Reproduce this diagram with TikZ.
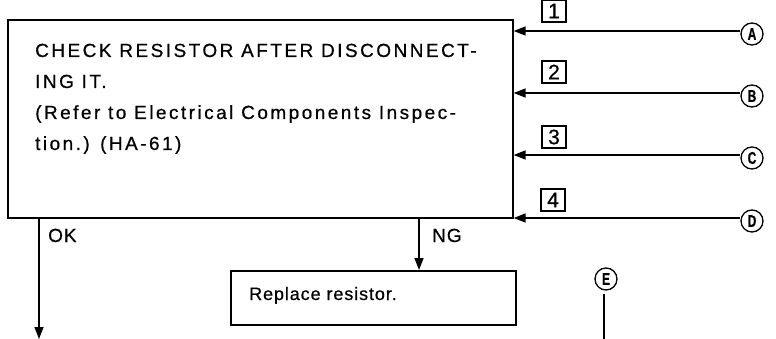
\documentclass[tikz,border=0pt]{standalone}
\usepackage{fontspec}
\setmainfont{Liberation Sans}
\newfontfamily\mainfnt[LetterSpace=13,FakeBold=0.6]{Liberation Sans}
\newfontfamily\repfnt[LetterSpace=5,FakeBold=0.6]{Liberation Sans}
\newfontfamily\letfnt[FakeBold=0.8]{Liberation Sans Bold}
\usetikzlibrary{arrows.meta}
\tikzset{
  boxline/.style={draw, line width=1.7pt, inner sep=0pt, anchor=north west},
  txt/.style={anchor=base west, inner sep=0pt, font=\mainfnt\fontsize{19}{22}\selectfont},
  reptxt/.style={anchor=base west, inner sep=0pt, font=\repfnt\fontsize{18}{22}\selectfont},
  numbox/.style={draw, line width=1.5pt, inner sep=0pt, minimum width=24pt, minimum height=22pt, font=\repfnt\fontsize{21}{21}\selectfont},
  letcirc/.style={draw, circle, line width=1.3pt, inner sep=0pt, minimum size=22pt, font=\letfnt\fontsize{17}{17}\selectfont},
  arr/.style={line width=1.6pt, -{Triangle[length=12pt,width=9pt]}},
  plain/.style={line width=1.6pt}
}
\newcommand{\narrowlet}[1]{\scalebox{0.7}[1]{#1}}
\begin{document}
\begin{tikzpicture}[x=1pt,y=-1pt]
\useasboundingbox (0,0) rectangle (776,339);
% main box
\node[boxline, minimum width=505pt, minimum height=198pt] (check) at (7,19) {};
\node[txt] (t1) at (35,57) {CHECK RESISTOR AFTER DISCONNECT-};
\node[txt] (t2) at (35,88) {ING IT.};
\node[txt] (t3) at (35,119) {(Refer to Electrical Components Inspec-};
\node[txt] (t4) at (35,150) {tion.) (HA-61)};
% replace box
\node[boxline, minimum width=285pt, minimum height=54pt] (rep) at (230,270) {};
\node[reptxt] (rt) at (249,300) {Replace resistor.};
% number boxes
\node[numbox] (n1) at (554,11) {1};
\node[numbox] (n2) at (554,72) {2};
\node[numbox] (n3) at (554,137) {3};
\node[numbox] (n4) at (553,200) {4};
% circled letters
\node[letcirc] (A) at (752,34) {\narrowlet{A}};
\node[letcirc] (B) at (752,96) {\narrowlet{B}};
\node[letcirc] (C) at (752,158) {\narrowlet{C}};
\node[letcirc] (D) at (752,221) {\narrowlet{D}};
\node[letcirc] (E) at (606,279) {\narrowlet{E}};
% incoming arrows
\coordinate (ya) at (0,31);
\coordinate (yb) at (0,93);
\coordinate (yc) at (0,155);
\coordinate (yd) at (0,218);
\draw[arr] (A.west |- ya) -- (check.east |- ya);
\draw[arr] (B.west |- yb) -- (check.east |- yb);
\draw[arr] (C.west |- yc) -- (check.east |- yc);
\draw[arr] (D.west |- yd) -- (check.east |- yd);
% OK / NG
\coordinate (okend) at (39,339);
\coordinate (ngx) at (419,0);
\draw[arr] (check.south -| okend) -- (okend);
\draw[arr] (check.south -| ngx) -- (rep.north -| ngx);
\node[reptxt, font=\repfnt\fontsize{19}{22}\selectfont] (ok) at (48,242) {OK};
\node[reptxt, font=\repfnt\fontsize{19}{22}\selectfont] (ng) at (432,242) {NG};
% E line
\coordinate (eend) at (604,339);
\draw[plain, shorten <=3pt] (E.south -| eend) -- (eend);
\end{tikzpicture}
\end{document}
